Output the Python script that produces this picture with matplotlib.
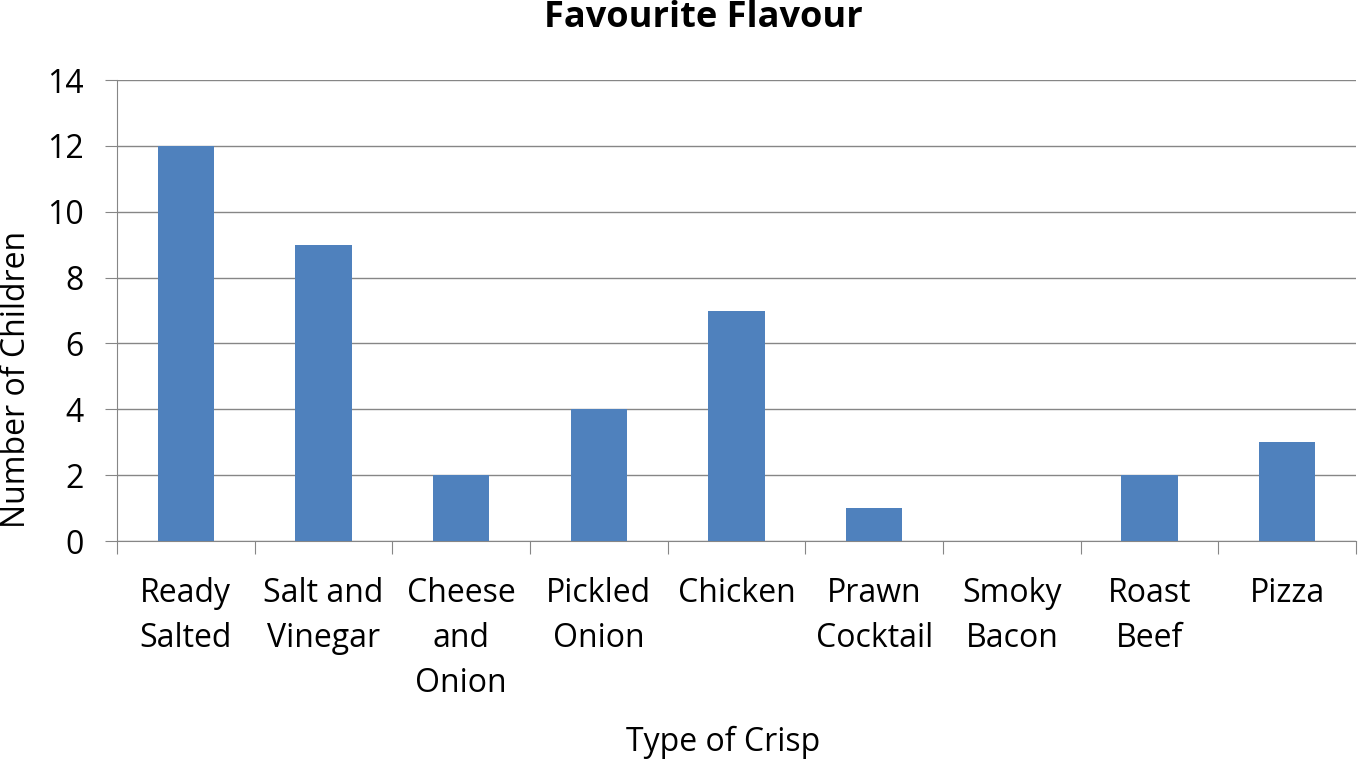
import numpy as np
import matplotlib.pyplot as plt

# data
flavours = ["Ready\nSalted", "Salt and\nVinegar", "Cheese\nand\nOnion", "Pickled\nOnion",
            "Chicken", "Prawn\nCocktail", "Smoky\nBacon", "Roast\nBeef", "Pizza"]
children = [12, 9, 2, 4, 7, 1, 0, 2, 3]

plt.rcParams['font.family'] = ['Open Sans', 'DejaVu Sans']
W, H = 1358, 760

fig = plt.figure(figsize=(W/100, H/100), dpi=100)
ax = fig.add_axes([117/W, 1-541/H, 1239/W, 461/H])

x = np.arange(len(flavours))
ax.bar(x, children, width=0.41, color='#4F81BD', zorder=3)

ax.set_xlim(-0.5, len(flavours)-0.5)
ax.set_ylim(0, 14)
ax.set_yticks(range(0, 15, 2))
ax.yaxis.grid(True, color='#868686', linewidth=1)
ax.set_axisbelow(True)

# ticks between categories on x
ax.set_xticks(np.arange(-0.5, len(flavours), 1))
ax.set_xticklabels([])
ax.set_xticks(x, minor=True)
ax.set_xticklabels(flavours, minor=True, fontsize=23, linespacing=1.48)
ax.tick_params(axis='x', which='major', length=9, color='#868686', direction='out')
ax.tick_params(axis='x', which='minor', length=0, pad=26)
ax.tick_params(axis='y', length=9, color='#868686', labelsize=23, pad=15)

for side in ['top', 'right']:
    ax.spines[side].set_visible(False)
ax.spines['left'].set_color('#868686')
ax.spines['bottom'].set_color('#868686')

fig.text(703/W, 1-18/H, "Favourite Flavour", fontsize=26, fontweight='bold',
         ha='center', va='center')
fig.text(723/W, 1-742/H, "Type of Crisp", fontsize=23, ha='center', va='center')
fig.text(17/W, 1-379/H, "Number of Children", fontsize=23, ha='center', va='center',
         rotation=90)

fig.savefig("out.png", dpi=100)
